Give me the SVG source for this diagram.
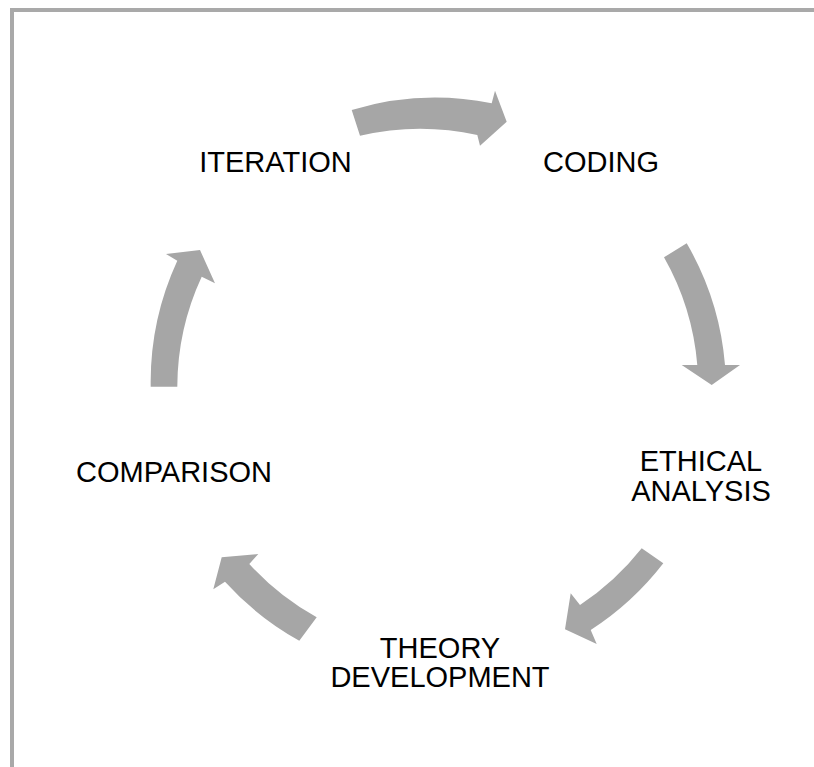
<svg xmlns="http://www.w3.org/2000/svg" width="814" height="767" viewBox="0 0 814 767">
  <style>
    .frame { fill: #a9a9a9; }
    .arrow { fill: #a6a6a6; }
    .label { font-family: "Liberation Sans", Arial, sans-serif; font-size: 29px; fill: #000000; text-anchor: middle; }
  </style>
  <rect width="814" height="767" fill="#ffffff"/>
  <!-- frame: top and left rules -->
  <rect class="frame" x="10" y="8" width="804" height="4"/>
  <rect class="frame" x="10" y="8" width="4" height="759"/>

  <!-- curved connectors between the steps of the cycle -->
  <g id="connectors">
    <path class="arrow" d="M 351.7,110 A 290 290 0 0 1 491.7,103.3 L 495,90.7 L 506.7,121.7 L 480,145.7 L 477.3,135 A 263 263 0 0 0 360,135.7 Z"/>
    <path class="arrow" d="M 686.7,243.3 A 290 290 0 0 1 725,365 L 740,365 L 711.7,385 L 681.7,365 L 697.3,365 A 263 263 0 0 0 664,257.3 Z"/>
    <path class="arrow" d="M 663.3,563.3 A 290 290 0 0 1 590.7,630 L 596.7,644 L 565,629.3 L 570.7,593.3 L 580,605 A 263 263 0 0 0 641.7,548.3 Z"/>
    <path class="arrow" d="M 299.3,640.7 A 290 290 0 0 1 225,581.7 L 213.3,589.3 L 221.7,557.3 L 258.3,554 L 249.3,564 A 263 263 0 0 0 316.7,617.3 Z"/>
    <path class="arrow" d="M 150.7,386.7 A 290 290 0 0 1 177.3,260.7 L 166,254 L 200,250 L 215,283.3 L 201.7,276.7 A 263 263 0 0 0 177.3,386.7 Z"/>
  </g>

  <g id="iteration">
    <text class="label" x="275.5" y="171.5">ITERATION</text>
  </g>
  <g id="coding">
    <text class="label" x="601" y="171.5">CODING</text>
  </g>
  <g id="ethical-analysis">
    <text class="label" x="701" y="471">ETHICAL</text>
    <text class="label" x="701" y="500.5">ANALYSIS</text>
  </g>
  <g id="theory-development">
    <text class="label" x="440" y="657.5">THEORY</text>
    <text class="label" x="440" y="687">DEVELOPMENT</text>
  </g>
  <g id="comparison">
    <text class="label" x="174" y="482">COMPARISON</text>
  </g>
</svg>
